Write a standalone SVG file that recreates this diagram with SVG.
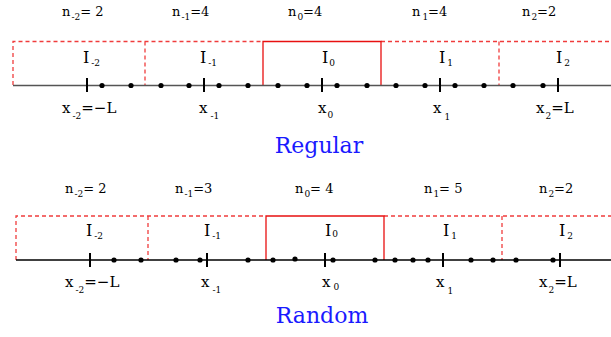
<svg xmlns="http://www.w3.org/2000/svg" width="611" height="337" viewBox="0 0 611 337">
<style>
text{font-family:"DejaVu Serif","Liberation Serif",serif;fill:#000}
.n{font-size:13px}
.I{font-size:16px}
.x{font-size:15px}
.s{font-size:9px}
.t{font-size:22px;fill:#1a1aff}
.dash{stroke:#f03c3c;stroke-width:1.3;stroke-dasharray:4 3;fill:none}
.solid{stroke:#e81010;stroke-width:1.3;fill:none}
.axisA{stroke:#555;stroke-width:1.5}
.axisB{stroke:#000;stroke-width:1.3}
.tick{stroke:#000;stroke-width:2}
.dot{fill:#000}
</style>
<rect width="611" height="337" fill="#fff"/>
<!-- Regular -->
<g id="regular">
<g id="reg-boxes">
<path class="dash" d="M13 85V41.5H263M381 41.5H611M145 41.5V85M499 41.5V85"/>
<path class="solid" d="M263 85V41.5H381V85"/>
</g>
<g id="reg-axis">
<line class="axisA" x1="13" y1="85.5" x2="611" y2="85.5"/>
<path class="tick" d="M87 78V92M204 78V92M322 78V92M440 78V92M558 78V92"/>
<g class="dot">
<circle cx="102" cy="85.5" r="2.6"/><circle cx="131" cy="85.5" r="2.6"/>
<circle cx="161" cy="85.5" r="2.6"/><circle cx="189" cy="85.5" r="2.6"/><circle cx="219" cy="85.5" r="2.6"/><circle cx="248" cy="85.5" r="2.6"/>
<circle cx="278" cy="85.5" r="2.6"/><circle cx="307" cy="85.5" r="2.6"/><circle cx="337" cy="85.5" r="2.6"/><circle cx="367" cy="85.5" r="2.6"/>
<circle cx="396" cy="85.5" r="2.6"/><circle cx="425" cy="85.5" r="2.6"/><circle cx="455" cy="85.5" r="2.6"/><circle cx="484" cy="85.5" r="2.6"/>
<circle cx="513" cy="85.5" r="2.6"/><circle cx="543" cy="85.5" r="2.6"/>
</g>
</g>
<g id="reg-n">
<text class="n" x="62" y="16">n<tspan class="s" dx="1" dy="4">-2</tspan><tspan dy="-4">= 2</tspan></text>
<text class="n" x="172" y="16">n<tspan class="s" dx="1" dy="4">-1</tspan><tspan dy="-4">=4</tspan></text>
<text class="n" x="288" y="16">n<tspan class="s" dx="1" dy="4">0</tspan><tspan dy="-4">=4</tspan></text>
<text class="n" x="412" y="16">n<tspan class="s" dx="2" dy="4">1</tspan><tspan dy="-4">=4</tspan></text>
<text class="n" x="522" y="16">n<tspan class="s" dx="1" dy="4">2</tspan><tspan dy="-4">=2</tspan></text>
</g>
<g id="reg-I">
<text class="I" x="83" y="63">I<tspan class="s" dx="2" dy="3">-2</tspan></text>
<text class="I" x="200" y="63">I<tspan class="s" dx="2" dy="3">-1</tspan></text>
<text class="I" x="322" y="63">I<tspan class="s" dx="1" dy="3">0</tspan></text>
<text class="I" x="439" y="63">I<tspan class="s" dx="2" dy="3">1</tspan></text>
<text class="I" x="556" y="63">I<tspan class="s" dx="2" dy="3">2</tspan></text>
</g>
<g id="reg-x">
<text class="x" x="62" y="113">x<tspan class="s" dx="2" dy="6">-2</tspan><tspan dy="-6">=−L</tspan></text>
<text class="x" x="199" y="113">x<tspan class="s" dx="3" dy="6">-1</tspan></text>
<text class="x" x="318" y="113">x<tspan class="s" dx="1" dy="5">0</tspan></text>
<text class="x" x="433" y="113">x<tspan class="s" dx="3" dy="7">1</tspan></text>
<text class="x" x="536" y="113">x<tspan class="s" dx="1" dy="6">2</tspan><tspan dy="-6">=L</tspan></text>
</g>
<text id="reg-title" class="t" x="319" y="153" text-anchor="middle">Regular</text>
</g>
<!-- Random -->
<g id="random">
<g id="ran-boxes">
<path class="dash" d="M16 260V216H266M384 216H611M148 216V260M502 216V260"/>
<path class="solid" d="M266 260V216H384V260"/>
</g>
<g id="ran-axis">
<line class="axisB" x1="16" y1="260" x2="611" y2="260"/>
<path class="tick" d="M90 253V267M207 253V267M325 253V267M443 253V267M560 253V267"/>
<g class="dot">
<circle cx="114" cy="260" r="2.6"/><circle cx="141" cy="260" r="2.6"/>
<circle cx="176" cy="260" r="2.6"/><circle cx="200" cy="260" r="2.6"/><circle cx="248" cy="260" r="2.6"/>
<circle cx="273" cy="260" r="2.6"/><circle cx="295" cy="259" r="2.6"/><circle cx="333" cy="260" r="2.6"/><circle cx="375" cy="260" r="2.6"/>
<circle cx="395" cy="260" r="2.6"/><circle cx="413" cy="260" r="2.6"/><circle cx="428" cy="260" r="2.6"/><circle cx="471" cy="260" r="2.6"/><circle cx="493" cy="260" r="2.6"/>
<circle cx="516" cy="260" r="2.6"/><circle cx="553" cy="260" r="2.6"/>
</g>
</g>
<g id="ran-n">
<text class="n" x="65" y="193">n<tspan class="s" dx="1" dy="4">-2</tspan><tspan dy="-4">= 2</tspan></text>
<text class="n" x="175" y="193">n<tspan class="s" dx="1" dy="4">-1</tspan><tspan dy="-4">=3</tspan></text>
<text class="n" x="295" y="193">n<tspan class="s" dx="1" dy="4">0</tspan><tspan dy="-4">= 4</tspan></text>
<text class="n" x="424" y="193">n<tspan class="s" dx="1" dy="4">1</tspan><tspan dy="-4">= 5</tspan></text>
<text class="n" x="539" y="193">n<tspan class="s" dx="1" dy="4">2</tspan><tspan dy="-4">=2</tspan></text>
</g>
<g id="ran-I">
<text class="I" x="86" y="236">I<tspan class="s" dx="2" dy="3">-2</tspan></text>
<text class="I" x="204" y="236">I<tspan class="s" dx="2" dy="3">-1</tspan></text>
<text class="I" x="325" y="236">I<tspan class="s" dx="1" dy="1">0</tspan></text>
<text class="I" x="443" y="236">I<tspan class="s" dx="2" dy="3">1</tspan></text>
<text class="I" x="559" y="236">I<tspan class="s" dx="2" dy="3">2</tspan></text>
</g>
<g id="ran-x">
<text class="x" x="65" y="287">x<tspan class="s" dx="2" dy="6">-2</tspan><tspan dy="-6">=−L</tspan></text>
<text class="x" x="201" y="287">x<tspan class="s" dx="3" dy="6">-1</tspan></text>
<text class="x" x="322" y="287">x<tspan class="s" dx="3" dy="3">0</tspan></text>
<text class="x" x="436" y="287">x<tspan class="s" dx="3" dy="7">1</tspan></text>
<text class="x" x="539" y="287">x<tspan class="s" dx="1" dy="6">2</tspan><tspan dy="-6">=L</tspan></text>
</g>
<text id="ran-title" class="t" x="322" y="323" text-anchor="middle">Random</text>
</g>
</svg>
